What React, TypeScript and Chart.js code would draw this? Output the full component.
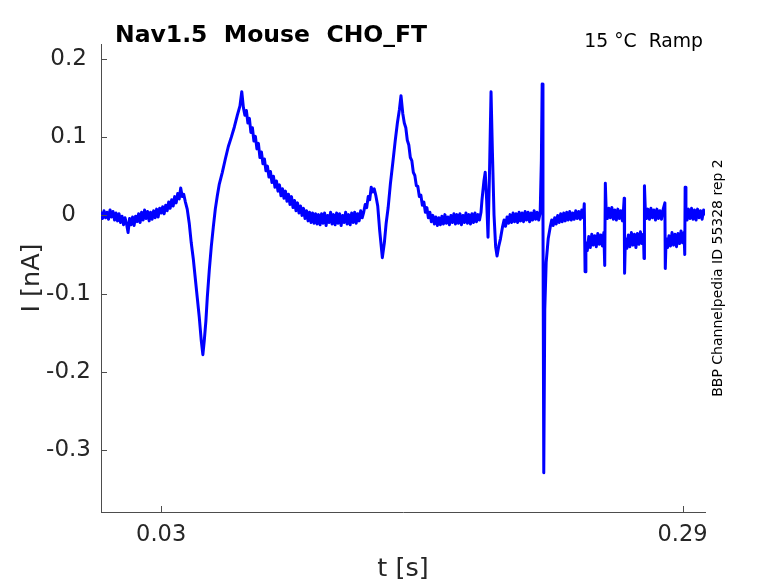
import { useEffect, useRef } from "react";
import { Chart, registerables, type Chart as ChartType } from "chart.js";

Chart.register(...registerables);

// time [ms], current [nA] (noise band included)
const trace: [number, number][] = [
  [0, 0.005], [0.75, -0.004], [1.5, 0.006], [2.25, -0.003], [3, 0.004], [3.75, -0.005],
  [4.5, 0.007], [5.25, -0.002], [6, 0.005], [6.75, -0.006], [7.5, 0.003], [8.25, -0.007],
  [9, 0.002], [9.75, -0.009], [10.5, -0.001], [11.25, -0.012], [12, -0.003], [12.75, -0.011],
  [13.5, -0.022], [14.25, -0.004], [15, -0.012], [15.75, -0.002], [16.5, -0.013], [17.25, -0.001],
  [18, -0.008], [18.75, 0.002], [19.5, -0.009], [20.25, 0.004], [21, -0.006], [21.75, 0.007],
  [22.5, -0.004], [23.25, 0.005], [24, -0.007], [24.75, 0.004], [25.5, -0.005], [26.25, 0.006],
  [27, -0.003], [27.75, 0.008], [28.5, -0.002], [29.25, 0.009], [30, 0.003], [30.75, 0.011],
  [31.5, 0.002], [32.25, 0.013], [33, 0.006], [33.75, 0.017], [34.5, 0.009], [35.25, 0.02],
  [36, 0.012], [36.75, 0.024], [37.5, 0.016], [38.25, 0.028], [39, 0.021], [39.75, 0.035],
  [40.5, 0.024], [41.25, 0.027], [42, 0.018], [43, 0.008],
  [44, -0.01], [45, -0.035], [46, -0.055], [47, -0.08], [48, -0.105], [49, -0.13],
  [50, -0.16], [50.8, -0.178], [51.5, -0.16], [52.3, -0.135], [53, -0.105], [54, -0.07],
  [55, -0.04], [56, -0.015], [57, 0.008], [58, 0.025], [59, 0.04], [60.5, 0.055],
  [62, 0.072], [63.5, 0.088], [65, 0.1], [66.5, 0.113], [68, 0.128], [69.3, 0.14],
  [70.2, 0.158],
  [71, 0.138], [71.75, 0.128], [72.5, 0.134], [73.25, 0.118], [74, 0.124], [74.75, 0.106],
  [75.5, 0.112], [76.25, 0.095], [77, 0.101], [77.75, 0.085], [78.5, 0.092], [79.25, 0.074],
  [80, 0.081], [80.75, 0.066], [81.5, 0.072], [82.25, 0.057], [83, 0.063], [83.75, 0.049],
  [84.5, 0.056], [85.25, 0.042], [86, 0.05], [86.75, 0.036], [87.5, 0.044], [88.25, 0.031],
  [89, 0.039], [89.75, 0.025], [90.5, 0.034], [91.25, 0.022], [92, 0.031], [92.75, 0.018],
  [93.5, 0.027], [94.25, 0.014], [95, 0.024], [95.75, 0.01], [96.5, 0.019], [97.25, 0.006],
  [98, 0.016], [98.75, 0.003], [99.5, 0.012], [100.25, 0.0], [101, 0.009], [101.75, -0.004],
  [102.5, 0.006], [103.25, -0.007], [104, 0.004], [104.75, -0.009], [105.5, 0.003], [106.25, -0.01],
  [107, 0.002], [107.75, -0.011], [108.5, 0.001], [109.25, -0.012], [110, 0.002], [110.75, -0.01],
  [111.5, 0.003], [112.25, -0.013], [113, 0.0], [113.75, -0.009], [114.5, 0.004], [115.25, -0.011],
  [116, 0.001], [116.75, -0.012], [117.5, 0.003], [118.25, -0.01], [119, 0.002], [119.75, -0.013],
  [120.5, 0.0], [121.25, -0.009], [122, 0.004], [122.75, -0.011], [123.5, 0.001], [124.25, -0.012],
  [125, 0.003], [125.75, -0.009], [126.5, 0.004], [127.25, -0.01], [128, 0.002], [128.75, -0.007],
  [129.5, 0.006], [130.25, -0.003], [131, 0.004], [131.75, 0.014], [132.5, 0.01], [133.25, 0.024],
  [134, 0.02], [134.75, 0.036], [135.5, 0.03], [136.25, 0.034], [137, 0.026], [138, 0.012],
  [139, -0.02], [140.3, -0.054], [141.3, -0.035], [142.2, -0.01], [143.2, 0.01], [144.3, 0.04],
  [145.5, 0.067], [146.7, 0.095], [147.8, 0.118], [148.8, 0.135], [149.6, 0.153],
  [150.5, 0.13], [151.25, 0.118], [152, 0.112], [152.75, 0.096], [153.5, 0.09], [154.25, 0.074],
  [155, 0.07], [155.75, 0.055], [156.5, 0.051], [157.25, 0.038], [158, 0.037], [158.75, 0.024],
  [159.5, 0.026], [160.25, 0.013], [161, 0.017], [161.75, 0.004], [162.5, 0.01], [163.25, -0.003],
  [164, 0.004], [164.75, -0.008], [165.5, 0.0], [166.25, -0.011], [167, -0.002], [167.75, -0.013],
  [168.5, -0.003], [169.25, -0.012], [170, -0.001], [170.75, -0.011], [171.5, 0.001], [172.25, -0.01],
  [173, -0.002], [173.75, -0.012], [174.5, 0.0], [175.25, -0.009], [176, 0.002], [176.75, -0.011],
  [177.5, 0.001], [178.25, -0.01], [179, 0.002], [179.75, -0.012], [180.5, 0.0], [181.25, -0.009],
  [182, 0.003], [182.75, -0.01], [183.5, 0.001], [184.25, -0.011], [185, 0.002], [185.75, -0.009],
  [186.5, 0.003], [187.25, -0.008], [188, 0.001], [188.75, -0.006], [189.5, 0.004],
  [190, 0.02], [191, 0.045], [191.6, 0.055], [192.3, 0.02], [193, -0.028], [193.7, 0.05],
  [194.5, 0.158], [195.2, 0.08], [196, 0.0], [196.8, -0.04], [197.5, -0.052], [198.3, -0.04],
  [199.2, -0.03], [200.2, -0.015], [201, -0.006], [201.75, -0.014], [202.5, -0.002], [203.25, -0.01],
  [204, 0.001], [204.75, -0.009], [205.5, 0.003], [206.25, -0.008], [207, 0.002], [207.75, -0.009],
  [208.5, 0.004], [209.25, -0.007], [210, 0.003], [210.75, -0.008], [211.5, 0.005], [212.25, -0.006],
  [213, 0.004], [213.75, -0.008], [214.5, 0.003], [215.25, -0.006], [216, 0.006], [216.75, -0.005],
  [217.5, 0.004], [218.25, -0.006], [219, 0.003],
  [219.6, 0.07], [220, 0.168], [220.4, 0.0], [220.8, -0.329], [221.3, -0.12], [222, -0.06],
  [223, -0.03], [224, -0.015], [224.75, -0.006], [225.5, -0.013], [226.25, -0.003], [227, -0.011],
  [227.75, 0.0], [228.5, -0.009], [229.25, 0.002], [230, -0.008], [230.75, 0.003], [231.5, -0.007],
  [232.25, 0.004], [233, -0.006], [233.75, 0.005], [234.5, -0.006], [235.25, 0.003], [236, -0.005],
  [236.75, 0.006], [237.5, -0.004], [238.25, 0.005], [239, -0.005], [239.75, 0.007], [240.5, -0.003],
  [241, 0.015], [241.4, -0.072],
  [241.8, -0.035], [242.5, -0.045], [243.25, -0.027], [244, -0.041], [244.75, -0.024], [245.5, -0.038],
  [246.25, -0.026], [247, -0.04], [247.75, -0.023], [248.5, -0.037], [249.25, -0.025], [250, -0.039],
  [250.75, -0.022], [251.2, -0.064], [251.5, 0.041],
  [251.9, 0.008], [252.5, -0.004], [253.25, 0.009], [254, -0.003], [254.75, 0.01], [255.5, -0.005],
  [256.25, 0.007], [257, -0.006], [257.75, 0.008], [258.5, -0.004], [259.25, 0.006], [260, -0.007],
  [260.5, 0.005], [260.9, 0.022], [261.1, -0.074],
  [261.5, -0.03], [262.25, -0.042], [263, -0.025], [263.75, -0.04], [264.5, -0.022], [265.25, -0.038],
  [266, -0.024], [266.75, -0.041], [267.5, -0.023], [268.25, -0.037], [269, -0.021], [269.75, -0.036],
  [270.5, -0.024], [270.8, -0.055], [271, 0.038],
  [271.4, 0.01], [272, -0.004], [272.75, 0.008], [273.5, -0.005], [274.25, 0.009], [275, -0.003],
  [275.75, 0.007], [276.5, -0.006], [277.25, 0.008], [278, -0.004], [278.75, 0.006], [279.5, -0.005],
  [280.25, 0.007], [281.2, 0.016], [281.4, -0.068],
  [281.8, -0.03], [282.5, -0.041], [283.25, -0.026], [284, -0.039], [284.75, -0.022], [285.5, -0.038],
  [286.25, -0.024], [287, -0.04], [287.75, -0.023], [288.5, -0.036], [289.25, -0.02], [290, -0.035],
  [290.75, -0.022], [291.1, -0.05], [291.3, 0.036],
  [291.7, 0.005], [292.25, -0.006], [293, 0.008], [293.75, -0.004], [294.5, 0.009], [295.25, -0.005],
  [296, 0.007], [296.75, -0.006], [297.5, 0.008], [298.25, -0.003], [299, 0.006], [299.75, -0.005],
  [300.5, 0.007], [301.2, 0.0],
];

const xTicks = [0.03, 0.29];
const xTickLabels = ["0.03", "0.29"];
const yTicks = [0.2, 0.1, 0, -0.1, -0.2, -0.3];
const yTickLabels = ["0.2", "0.1", "0", "-0.1", "-0.2", "-0.3"];

const title = "Nav1.5  Mouse  CHO_FT";
const subtitle = "15 °C  Ramp";
const sideNote = "BBP Channelpedia ID 55328 rep 2";

const FONT = "'DejaVu Sans', sans-serif";
const INK = "#262626";

export default function App() {
  const canvasRef = useRef<HTMLCanvasElement | null>(null);

  useEffect(() => {
    const el = canvasRef.current;
    if (!el) return;

    // text and inward tick marks, MATLAB style
    const decor = {
      id: "decor",
      afterDraw: (c: ChartType) => {
        const { ctx, chartArea, scales } = c as any;
        const { left, right, top, bottom } = chartArea;
        ctx.save();
        ctx.strokeStyle = "#4d4d4d";
        ctx.lineWidth = 1;
        ctx.beginPath();
        for (const v of xTicks) {
          const px = Math.round(scales.x.getPixelForValue(v)) + 0.5;
          ctx.moveTo(px, bottom);
          ctx.lineTo(px, bottom - 6);
        }
        for (const v of yTicks) {
          const py = Math.round(scales.y.getPixelForValue(v)) + 0.5;
          ctx.moveTo(left, py);
          ctx.lineTo(left + 6, py);
        }
        ctx.stroke();

        ctx.fillStyle = "#000";
        ctx.font = `bold 23.5px ${FONT}`;
        ctx.textAlign = "left";
        ctx.textBaseline = "alphabetic";
        ctx.fillText(title, 115, 42);

        ctx.font = `18.8px ${FONT}`;
        ctx.textAlign = "right";
        ctx.fillText(subtitle, 703, 47);

        ctx.fillStyle = INK;
        ctx.font = `25.5px ${FONT}`;
        ctx.textAlign = "center";
        ctx.fillText("t [s]", (left + right) / 2, 576);

        ctx.save();
        ctx.translate(39, (top + bottom) / 2);
        ctx.rotate(-Math.PI / 2);
        ctx.fillText("I [nA]", 0, 0);
        ctx.restore();

        ctx.save();
        ctx.fillStyle = "#000";
        ctx.font = `14px ${FONT}`;
        ctx.translate(722, (top + bottom) / 2);
        ctx.rotate(-Math.PI / 2);
        ctx.fillText(sideNote, 0, 0);
        ctx.restore();
        ctx.restore();
      },
    };

    const c = new Chart(el, {
      type: "line",
      data: {
        datasets: [
          {
            data: trace.map(([t, v]) => ({ x: t / 1000, y: v })),
            borderColor: "#0000ff",
            borderWidth: 3,
            borderJoinStyle: "round",
            pointRadius: 0,
            tension: 0,
          },
        ],
      },
      options: {
        responsive: true,
        maintainAspectRatio: false,
        animation: false,
        layout: { padding: { top: 44, right: 73, left: 0, bottom: 0 } },
        plugins: { legend: { display: false }, tooltip: { enabled: false }, title: { display: false } },
        scales: {
          x: {
            type: "linear",
            min: 0,
            max: 0.3012,
            grid: { display: false, drawTicks: false },
            border: { display: true, color: "#4d4d4d", width: 1 },
            afterBuildTicks: (s: any) => {
              s.ticks = xTicks.map((value) => ({ value }));
            },
            afterFit: (s: any) => {
              s.height = 71;
            },
            ticks: {
              autoSkip: false,
              maxRotation: 0,
              padding: 10,
              color: INK,
              font: { family: FONT, size: 22.5 },
              callback: (v: any) => xTickLabels[xTicks.indexOf(Number(v))] ?? "",
            },
          },
          y: {
            type: "linear",
            min: -0.379,
            max: 0.219,
            grid: { display: false, drawTicks: false },
            border: { display: true, color: "#4d4d4d", width: 1 },
            afterBuildTicks: (s: any) => {
              s.ticks = yTicks.map((value) => ({ value }));
            },
            afterFit: (s: any) => {
              s.width = 101;
            },
            ticks: {
              autoSkip: false,
              padding: 10,
              crossAlign: "center",
              color: INK,
              font: { family: FONT, size: 23 },
              callback: (v: any) => {
                const i = yTicks.findIndex((t) => Math.abs(t - Number(v)) < 1e-9);
                return i >= 0 ? yTickLabels[i] : "";
              },
            },
          },
        },
      },
      plugins: [decor],
    });

    return () => c.destroy();
  }, []);

  return (
    <div style={{ position: "fixed", left: 0, top: 0, width: 778, height: 583, background: "#fff" }}>
      <canvas ref={canvasRef} />
    </div>
  );
}
